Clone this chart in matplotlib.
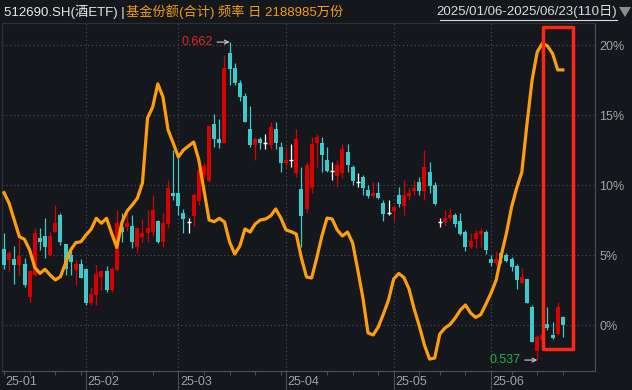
import numpy as np
import matplotlib
matplotlib.use('Agg')
import matplotlib.pyplot as plt
from matplotlib.patches import Rectangle, Polygon
from matplotlib.lines import Line2D
import matplotlib.transforms as mtransforms

plt.rcParams['font.family'] = ['Liberation Sans', 'Noto Sans CJK SC', 'DejaVu Sans']

# daily K-line of 512690.SH, 2025/01/06 - 2025/06/23 (110 trading days)
opens = [0.5805, 0.5763, 0.5767, 0.5744, 0.5748, 0.5618, 0.5704, 0.5851, 0.5858, 0.5783,
         0.5874, 0.5940, 0.5825, 0.5783, 0.5724, 0.5748, 0.5728, 0.5593, 0.5626, 0.5696,
         0.5721, 0.5645, 0.5724, 0.5894, 0.5894, 0.5897, 0.5816, 0.5855, 0.5871, 0.5874,
         0.5915, 0.5835, 0.5905, 0.6028, 0.6028, 0.5949, 0.5913, 0.5938, 0.5997, 0.6097,
         0.6075, 0.6298, 0.6239, 0.6224, 0.6578, 0.6517, 0.6458, 0.6408, 0.6277, 0.6215,
         0.6238, 0.6224, 0.6215, 0.6277, 0.6209, 0.6146, 0.6156, 0.6107, 0.6041, 0.5962,
         0.6045, 0.6222, 0.6222, 0.6156, 0.6115, 0.6093, 0.6106, 0.6188, 0.6130, 0.6071,
         0.6091, 0.6038, 0.6015, 0.6028, 0.5988, 0.5949, 0.5957, 0.6019, 0.5975, 0.6015,
         0.6036, 0.6071, 0.6036, 0.6110, 0.6058, 0.5914, 0.5914, 0.5927, 0.5940, 0.5918,
         0.5873, 0.5814, 0.5845, 0.5867, 0.5873, 0.5766, 0.5753, 0.5790, 0.5783, 0.5766,
         0.5740, 0.5672, 0.5687, 0.5580, 0.5407, 0.5447, 0.5510, 0.5470, 0.5474, 0.5540]
highs = [0.5871, 0.5799, 0.5818, 0.5846, 0.5771, 0.5724, 0.5889, 0.5890, 0.5928, 0.5874,
         0.5979, 0.5948, 0.5827, 0.5803, 0.5763, 0.5767, 0.5730, 0.5658, 0.5744, 0.5724,
         0.5740, 0.5737, 0.5960, 0.5948, 0.5948, 0.5940, 0.5894, 0.5926, 0.5960, 0.6019,
         0.5920, 0.5948, 0.6078, 0.6196, 0.6164, 0.5964, 0.5928, 0.6027, 0.6130, 0.6144,
         0.6294, 0.6337, 0.6317, 0.6569, 0.6620, 0.6539, 0.6471, 0.6421, 0.6368, 0.6248,
         0.6247, 0.6258, 0.6307, 0.6307, 0.6228, 0.6209, 0.6219, 0.6277, 0.6130, 0.6150,
         0.6247, 0.6258, 0.6248, 0.6209, 0.6148, 0.6156, 0.6218, 0.6219, 0.6137, 0.6106,
         0.6097, 0.6058, 0.6071, 0.6071, 0.5999, 0.5999, 0.5979, 0.6049, 0.6078, 0.6045,
         0.6078, 0.6091, 0.6196, 0.6150, 0.6071, 0.5927, 0.5960, 0.5968, 0.5948, 0.5948,
         0.5881, 0.5868, 0.5881, 0.5888, 0.5881, 0.5783, 0.5800, 0.5796, 0.5790, 0.5776,
         0.5748, 0.5731, 0.5689, 0.5586, 0.5468, 0.5476, 0.5580, 0.5520, 0.5599, 0.5542]
lows = [0.5728, 0.5720, 0.5669, 0.5704, 0.5657, 0.5598, 0.5700, 0.5803, 0.5771, 0.5780,
        0.5872, 0.5822, 0.5704, 0.5704, 0.5665, 0.5692, 0.5586, 0.5586, 0.5586, 0.5645,
        0.5639, 0.5639, 0.5722, 0.5835, 0.5877, 0.5810, 0.5791, 0.5835, 0.5834, 0.5858,
        0.5830, 0.5816, 0.5889, 0.5999, 0.5940, 0.5869, 0.5871, 0.5897, 0.5979, 0.6086,
        0.6070, 0.6209, 0.6203, 0.6223, 0.6451, 0.6451, 0.6389, 0.6305, 0.6209, 0.6156,
        0.6199, 0.6198, 0.6198, 0.6198, 0.6110, 0.6129, 0.6130, 0.6091, 0.5816, 0.5949,
        0.6028, 0.6130, 0.6110, 0.6110, 0.6078, 0.6049, 0.6086, 0.6110, 0.6058, 0.6049,
        0.6019, 0.6006, 0.6006, 0.6002, 0.5918, 0.5940, 0.5918, 0.5970, 0.5940, 0.5999,
        0.6019, 0.6019, 0.5999, 0.6025, 0.5980, 0.5892, 0.5897, 0.5917, 0.5894, 0.5861,
        0.5800, 0.5809, 0.5809, 0.5814, 0.5787, 0.5740, 0.5744, 0.5750, 0.5757, 0.5721,
        0.5648, 0.5670, 0.5593, 0.5440, 0.5370, 0.5443, 0.5490, 0.5452, 0.5470, 0.5459]
closes = [0.5744, 0.5790, 0.5744, 0.5780, 0.5665, 0.5720, 0.5871, 0.5833, 0.5816, 0.5858,
          0.5910, 0.5835, 0.5728, 0.5757, 0.5748, 0.5694, 0.5593, 0.5630, 0.5708, 0.5720,
          0.5645, 0.5726, 0.5910, 0.5874, 0.5910, 0.5835, 0.5889, 0.5871, 0.5889, 0.5960,
          0.5835, 0.5910, 0.6046, 0.6015, 0.5975, 0.5923, 0.5913, 0.6019, 0.6117, 0.6133,
          0.6290, 0.6238, 0.6224, 0.6517, 0.6513, 0.6458, 0.6405, 0.6307, 0.6215, 0.6238,
          0.6224, 0.6224, 0.6287, 0.6224, 0.6146, 0.6156, 0.6156, 0.6238, 0.5936, 0.6137,
          0.6219, 0.6248, 0.6176, 0.6114, 0.6115, 0.6137, 0.6198, 0.6137, 0.6075, 0.6071,
          0.6045, 0.6015, 0.6028, 0.6006, 0.5944, 0.5949, 0.5970, 0.5983, 0.6019, 0.6028,
          0.6047, 0.6036, 0.6130, 0.6054, 0.5983, 0.5914, 0.5927, 0.5940, 0.5903, 0.5865,
          0.5816, 0.5838, 0.5871, 0.5878, 0.5801, 0.5753, 0.5766, 0.5770, 0.5760, 0.5735,
          0.5685, 0.5698, 0.5595, 0.5442, 0.5459, 0.5468, 0.5496, 0.5456, 0.5579, 0.5506]

# fund share change (%) since 2025/01/06
share_pct = [9.47, 8.71, 7.52, 6.33, 6.14, 5.38, 4.14, 3.71, 4.00, 3.59,
             3.24, 3.47, 4.43, 5.38, 5.90, 5.97, 6.45, 6.86, 7.64, 7.29,
             7.64, 6.57, 5.56, 7.34, 8.16, 8.59, 9.07, 10.16, 14.81, 15.59,
             17.24, 16.31, 13.95, 13.02, 12.02, 12.52, 12.81, 13.09, 11.81, 9.66,
             7.52, 7.40, 7.64, 7.38, 5.95, 5.09, 5.66, 6.88, 6.66, 7.24,
             7.52, 7.59, 7.81, 8.31, 7.66, 6.81, 6.69, 6.52, 4.81, 3.45,
             3.38, 4.81, 6.38, 7.66, 7.59, 6.81, 6.38, 6.66, 5.88, 3.95,
             1.95, -0.55, -0.69, -0.12, 0.81, 1.81, 3.31, 3.70, 3.41, 2.59,
             1.16, -0.05, -1.41, -2.41, -2.34, -0.62, -0.19, 0.06, 0.52, 1.09,
             1.45, 0.88, 0.56, 0.77, 1.52, 2.31, 3.24, 5.02, 6.59, 8.45,
             9.81, 10.95, 14.38, 17.52, 19.52, 20.13, 19.95, 19.40, 18.24, 18.24]

month_labels = ['25-01', '25-02', '25-03', '25-04', '25-05', '25-06']
month_starts = [0, 16, 34, 55, 76, 95]
week_ticks = [0, 5, 10, 15, 21, 29, 39, 44, 49, 54, 63, 68, 73, 81, 85, 90, 99, 104, 109]
pct_ticks = [0, 5, 10, 15, 20]

BG = '#14171c'
GRID = '#4a4e56'
AXIS = '#4a4d54'
TXT = '#a3a3a3'
RED = '#d90000'
CYAN = '#3ccacb'
ORANGE = '#ff9e0b'

fig = plt.figure(figsize=(6.32, 3.90), dpi=100, facecolor=BG)
L, R, B, T = 1.5 / 632, 594.5 / 632, 19 / 390, (390 - 23) / 390
ax = fig.add_axes([L, B, R - L, T - B])
ax.set_facecolor(BG)
ax.set_xlim(-0.488, 115.17)
ax.set_ylim(-3.264, 21.59)

# twin layers: candles (price scale) and share line (pct scale)
axc = ax.twinx()
axl = ax.twinx()
for a in (axc, axl):
    a.set_yticks([])
    a.patch.set_visible(False)
    for s in a.spines.values():
        s.set_visible(False)
axc.set_ylim(0.5327, 0.6695)
axl.set_ylim(ax.get_ylim())

# grid
for v in pct_ticks:
    ax.axhline(v, color=GRID, lw=0.8, ls=(0, (1, 2.5)), zorder=0)
for m in month_starts[1:]:
    ax.axvline(m, color=GRID, lw=0.8, ls=(0, (1, 2.5)), zorder=0)

ax.yaxis.tick_right()
ax.set_yticks(pct_ticks)
ax.set_yticklabels([f'{v}%' for v in pct_ticks])
ax.tick_params(axis='y', which='both', left=False, right=True, labelleft=False, labelright=True,
               length=0, pad=3.5, labelsize=9, labelcolor=TXT)

ax.set_xticks(month_starts[1:])
ax.set_xticklabels([])
ax.set_xticks(week_ticks, minor=True)
ax.tick_params(axis='x', which='major', length=14, width=0.8, color=AXIS, direction='out')
ax.tick_params(axis='x', which='minor', length=2.8, width=0.8, color=AXIS, direction='out')

blend = mtransforms.blended_transform_factory(ax.transData, ax.transAxes)
for idx, lab in zip(month_starts, month_labels):
    ax.text(idx + 0.3, -0.031, lab, transform=blend, ha='left', va='center',
            fontsize=9, color=TXT)

for side in ['bottom', 'right']:
    ax.spines[side].set_color(AXIS)
    ax.spines[side].set_linewidth(0.9)
for side in ['top', 'left']:
    ax.spines[side].set_color('#2c2f36')
    ax.spines[side].set_linewidth(0.9)

# candles
n = len(opens)
x = np.arange(n)
body_w = 0.78
min_h = 0.00045
for i in range(n):
    o, h, l, c = opens[i], highs[i], lows[i], closes[i]
    if c > o:
        col = RED
    elif c < o:
        col = CYAN
    else:
        col = '#ffffff'
    axc.vlines(i, l, h, color=col, lw=0.9, zorder=2)
    if c == o:
        axc.hlines(c, i - body_w / 2, i + body_w / 2, color=col, lw=1.0, zorder=3)
    else:
        lo_b, hi_b = min(o, c), max(o, c)
        if hi_b - lo_b < min_h:
            mid = (hi_b + lo_b) / 2
            lo_b, hi_b = mid - min_h / 2, mid + min_h / 2
        axc.bar(i, hi_b - lo_b, bottom=lo_b, width=body_w, color=col, lw=0, zorder=3)

# high / low annotations
imax = int(np.argmax(highs))
imin = int(np.argmin(lows))
axc.annotate(f'{highs[imax]:.3f}', xy=(imax, highs[imax]), xytext=(-12, 0),
             textcoords='offset points', ha='right', va='center', fontsize=9, color='#e0242c',
             arrowprops=dict(arrowstyle='->', color='#cfcfcf', lw=0.8, shrinkA=1, shrinkB=0,
                             mutation_scale=7), zorder=6)
axc.annotate(f'{lows[imin]:.3f}', xy=(imin, lows[imin]), xytext=(-12, 0),
             textcoords='offset points', ha='right', va='center', fontsize=9, color='#1fb14a',
             arrowprops=dict(arrowstyle='->', color='#cfcfcf', lw=0.8, shrinkA=1, shrinkB=0,
                             mutation_scale=7), zorder=6)

# fund share line
axl.plot(x, share_pct, color=ORANGE, lw=2.3, solid_joinstyle='round', zorder=4)

# highlight box
axl.add_patch(Rectangle((105.13, -1.69), 5.85, 23.0, fill=False, ec='#ff2613', lw=2.5,
                        joinstyle='round', zorder=5, clip_on=False))

# header
fig.text(4 / 632, 1 - 12 / 390, '512690.SH(酒ETF) |', ha='left', va='center',
         fontsize=9.5, color='#e8e8e8')
fig.text(126 / 632, 1 - 12 / 390, '基金份额(合计) 频率 日 2188985万份', ha='left', va='center',
         fontsize=9.5, color='#f39c12')
fig.text(617 / 632, 1 - 11 / 390, '2025/01/06-2025/06/23(110日)', ha='right', va='center',
         fontsize=9.5, color='#dadada')
fig.add_artist(Line2D([440 / 632, 617 / 632], [1 - 19.5 / 390] * 2, transform=fig.transFigure,
                      color='#dadada', lw=0.8))
fig.add_artist(Polygon([[619 / 632, 1 - 7 / 390], [631 / 632, 1 - 7 / 390], [625 / 632, 1 - 17 / 390]],
                       closed=True, transform=fig.transFigure, fc='#8c8c8c', ec='none'))

fig.savefig('out.png', dpi=100, facecolor=BG)
